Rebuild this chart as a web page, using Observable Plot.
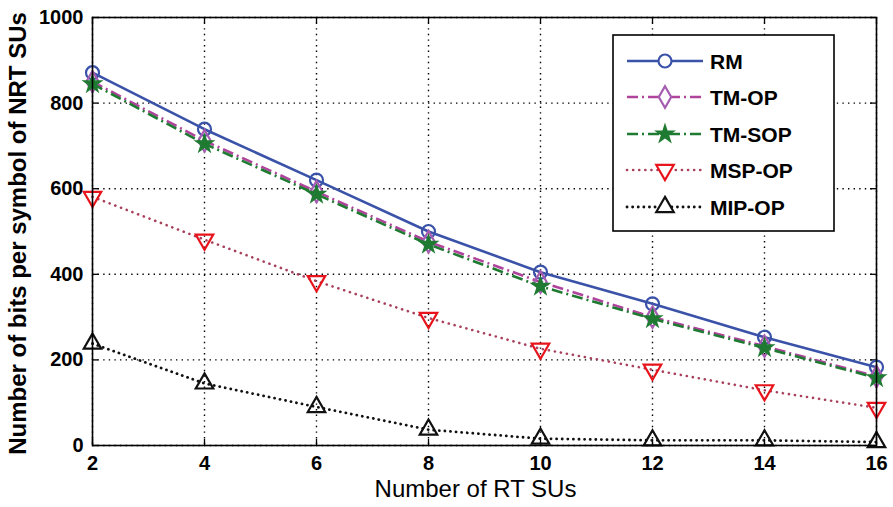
<!DOCTYPE html>
<html>
<head>
<meta charset="utf-8">
<script src="https://cdn.jsdelivr.net/npm/d3@7"></script>
<script src="https://cdn.jsdelivr.net/npm/@observablehq/plot@0.6"></script>
<style>
  body { margin: 0; background: #fff; }
  #chart { position: relative; width: 893px; height: 507px; }
</style>
</head>
<body>
<div id="chart"></div>
<script>
const rtSUs = [2, 4, 6, 8, 10, 12, 14, 16];
const rm     = [871, 739, 620, 500, 405, 331, 253, 183];
const tmOp   = [850, 712, 593, 476, 382, 300, 232, 161];
const tmSop  = [845, 705, 587, 470, 372, 296, 228, 158];
const mspOp  = [581, 481, 384, 298, 226, 177, 129, 88];
const mipOp  = [238, 145, 90, 37, 16, 12, 12, 8];
const seriesNames = ["RM", "TM-OP", "TM-SOP", "MSP-OP", "MIP-OP"];
const xTicks = [2, 4, 6, 8, 10, 12, 14, 16];
const yTicks = [0, 200, 400, 600, 800, 1000];
const xLabel = "Number of RT SUs";
const yLabel = "Number of bits per symbol of NRT SUs";

const styles = {
  "RM":     {line: "#3a52a8", dash: null,       cap: "butt",  sym: "circle",   r: 6.5, fill: "none",    stroke: "#3a52a8", rotate: 0,   lw: 2.6},
  "TM-OP":  {line: "#b0449c", dash: "11,4,2,4", cap: "butt",  sym: "diamond",  r: 6.5, fill: "none",    stroke: "#a65cb0", rotate: 0,   lw: 2.6},
  "TM-SOP": {line: "#1f7a32", dash: "11,4,2,4", cap: "butt",  sym: "star",     r: 4.8, fill: "#1f7a32", stroke: "#1f7a32", rotate: 0,   lw: 2.6},
  "MSP-OP": {line: "#a8405c", dash: "0.1,6",    cap: "round", sym: "triangle", r: 6.5, fill: "none",    stroke: "#e8141c", rotate: 180, lw: 2.6},
  "MIP-OP": {line: "#111111", dash: "0.1,5.5",  cap: "round", sym: "triangle", r: 6.5, fill: "none",    stroke: "#111111", rotate: 0,   lw: 2.8}
};
const values = {"RM": rm, "TM-OP": tmOp, "TM-SOP": tmSop, "MSP-OP": mspOp, "MIP-OP": mipOp};
const data = seriesNames.map(name => rtSUs.map((x, i) => ({x, y: values[name][i], name})));

const W = 893, H = 507, mL = 92, mR = 17, mT = 17, mB = 62;
const innerW = W - mL - mR, innerH = H - mT - mB;

const marks = [
  Plot.gridX(xTicks, {stroke: "black", strokeOpacity: 1, strokeWidth: 1.4, strokeDasharray: "1.4,4.2"}),
  Plot.gridY(yTicks, {stroke: "black", strokeOpacity: 1, strokeWidth: 1.4, strokeDasharray: "1.4,4.2"}),
  Plot.tickX(xTicks, {x: d => d, insetTop: innerH - 6, stroke: "black", strokeWidth: 1.3}),
  Plot.tickX(xTicks, {x: d => d, insetBottom: innerH - 6, stroke: "black", strokeWidth: 1.3}),
  Plot.tickY(yTicks, {y: d => d, insetRight: innerW - 6, stroke: "black", strokeWidth: 1.3}),
  Plot.tickY(yTicks, {y: d => d, insetLeft: innerW - 6, stroke: "black", strokeWidth: 1.3}),
  Plot.axisX({ticks: xTicks, tickFormat: d3.format("d"), tickSize: 0, tickPadding: 10, label: null, fontSize: 20, fontWeight: "bold"}),
  Plot.axisY({ticks: yTicks, tickFormat: d3.format("d"), tickSize: 0, tickPadding: 9, label: null, fontSize: 20, fontWeight: "bold"}),
  Plot.text([xLabel], {text: d => d, frameAnchor: "bottom", lineAnchor: "middle", dx: -9, dy: 44, fontSize: 24, fontWeight: "normal", fontFamily: "'Liberation Sans Narrow', 'Arial Narrow', 'Liberation Sans', sans-serif", textAnchor: "middle"}),
  Plot.text([yLabel], {text: d => d, frameAnchor: "left", lineAnchor: "middle", rotate: -90, dx: -74, dy: 2, fontSize: 24, fontWeight: "bold", textAnchor: "middle"})
];
seriesNames.forEach((name, k) => {
  const s = styles[name];
  marks.push(Plot.line(data[k], {x: "x", y: "y", stroke: s.line, strokeWidth: s.lw, strokeDasharray: s.dash, strokeLinecap: s.cap}));
  marks.push(Plot.dot(data[k], {x: "x", y: "y", symbol: s.sym, r: s.r, fill: s.fill, stroke: s.stroke, strokeWidth: 2.2, rotate: s.rotate}));
});
marks.push(Plot.frame({stroke: "black", strokeWidth: 1.6}));

const chart = Plot.plot({
  width: W, height: H,
  marginLeft: mL, marginRight: mR, marginTop: mT, marginBottom: mB,
  style: {fontFamily: "'Liberation Sans', Arial, sans-serif", fontSize: "20px", color: "black", background: "white"},
  x: {domain: [2, 16]},
  y: {domain: [0, 1000]},
  marks
});
document.getElementById("chart").appendChild(chart);

// Legend (inside the plot, top right)
const svg = d3.select(chart);
const lg = svg.append("g").attr("font-family", "'Liberation Sans', Arial, sans-serif").attr("text-anchor", "start");
lg.append("rect").attr("x", 613).attr("y", 35).attr("width", 221).attr("height", 196)
  .attr("fill", "white").attr("stroke", "black").attr("stroke-width", 1.6);
const rowY = [61, 97, 134, 170, 207];
const symMap = {circle: d3.symbolCircle, diamond: d3.symbolDiamond, star: d3.symbolStar, triangle: d3.symbolTriangle};
seriesNames.forEach((name, i) => {
  const s = styles[name];
  const y = rowY[i];
  lg.append("line").attr("x1", 627).attr("x2", 703).attr("y1", y).attr("y2", y)
    .attr("stroke", s.line).attr("stroke-width", s.lw)
    .attr("stroke-dasharray", s.dash).attr("stroke-linecap", s.cap);
  lg.append("path").attr("d", d3.symbol(symMap[s.sym], Math.PI * s.r * s.r)())
    .attr("transform", `translate(665,${y}) rotate(${s.rotate})`)
    .attr("fill", s.fill === "none" ? "white" : s.fill).attr("stroke", s.stroke).attr("stroke-width", 2.2);
  lg.append("text").attr("x", 710).attr("y", y).attr("dy", "0.36em")
    .attr("font-size", 21).attr("font-weight", "bold").attr("fill", "black").text(name);
});
</script>
</body>
</html>
